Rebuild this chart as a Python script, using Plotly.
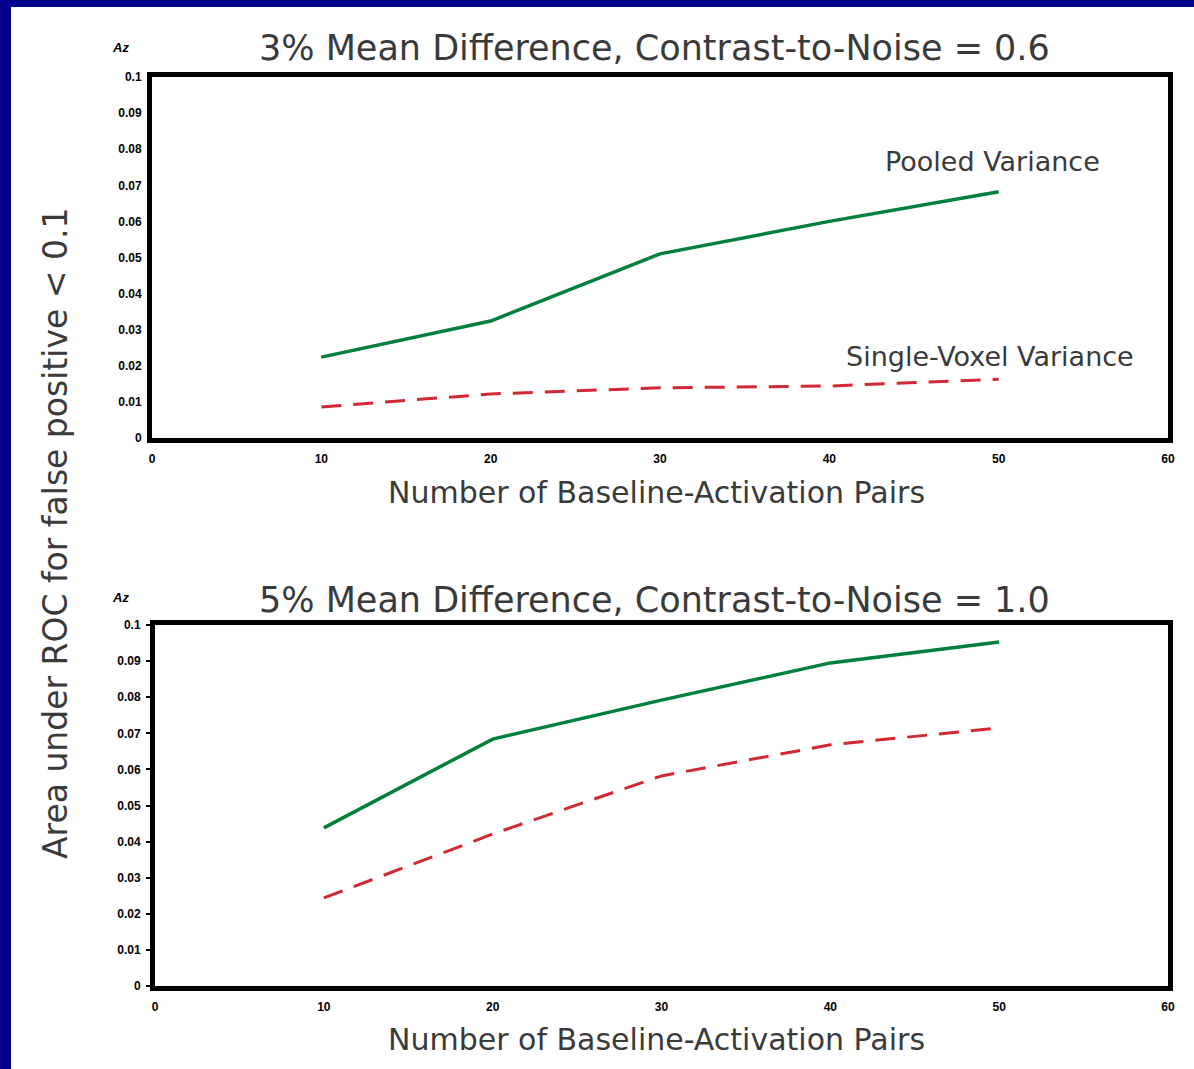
import plotly.graph_objects as go

# Number of baseline-activation pairs
pairs = [10, 20, 30, 40, 50]

# Az (area under ROC for false positive < 0.1), 3% mean difference, CNR = 0.6
pooled_cnr06 = [0.0224, 0.0324, 0.0510, 0.0600, 0.0682]
single_cnr06 = [0.0086, 0.0122, 0.0139, 0.0144, 0.0163]

# Az, 5% mean difference, CNR = 1.0
pooled_cnr10 = [0.0438, 0.0684, 0.0792, 0.0895, 0.0953]
single_cnr10 = [0.0244, 0.0421, 0.0582, 0.0668, 0.0715]

panel_titles = [
    "3% Mean Difference, Contrast-to-Noise = 0.6",
    "5% Mean Difference, Contrast-to-Noise = 1.0",
]
x_title = "Number of Baseline-Activation Pairs"
y_title = "Area under ROC for false positive < 0.1"
x_ticks = [0, 10, 20, 30, 40, 50, 60]
y_ticks = [0, 0.01, 0.02, 0.03, 0.04, 0.05, 0.06, 0.07, 0.08, 0.09, 0.1]
y_ticklabels = ["0", "0.01", "0.02", "0.03", "0.04", "0.05", "0.06", "0.07", "0.08", "0.09", "0.1"]

W, H = 1194, 1069
GREEN = "rgb(0,128,60)"
RED = "rgb(210,40,50)"
TEXT = "#3a3a3a"
FONT = "DejaVu Sans"

fig = go.Figure()

for i, (pooled, single) in enumerate([(pooled_cnr06, single_cnr06), (pooled_cnr10, single_cnr10)]):
    xa = "x" if i == 0 else "x2"
    ya = "y" if i == 0 else "y2"
    fig.add_trace(go.Scatter(x=pairs, y=pooled, mode="lines", xaxis=xa, yaxis=ya,
                             line=dict(color=GREEN, width=3.5), showlegend=False))
    fig.add_trace(go.Scatter(x=pairs, y=single, mode="lines", xaxis=xa, yaxis=ya,
                             line=dict(color=RED, width=3, dash="20px,12px"), showlegend=False))


def px_x(p):
    return p / W


def px_y(p):
    return 1 - p / H


axis_common = dict(
    showline=True, mirror=True, linecolor="black", linewidth=5,
    showgrid=False, zeroline=False, automargin=False,
    tickfont=dict(family="Liberation Sans", size=12, color="black"),
)

xaxis_cfg = dict(axis_common, range=[0, 60], tickvals=x_ticks,
                 ticktext=[f"<b>{t}</b>" for t in x_ticks],
                 ticks="", ticklen=0, ticklabelstandoff=6)
yaxis_cfg = dict(axis_common, range=[0, 0.1], tickvals=y_ticks,
                 ticktext=[f"<b>{t}</b>" for t in y_ticklabels],
                 ticklabelstandoff=3)

fig.update_layout(
    width=W, height=H,
    margin=dict(l=0, r=0, t=0, b=0, pad=0),
    paper_bgcolor="rgb(0,0,140)",
    plot_bgcolor="white",
    xaxis=dict(xaxis_cfg, domain=[px_x(152), px_x(1168)], anchor="y"),
    yaxis=dict(yaxis_cfg, domain=[px_y(438), px_y(77)], anchor="x",
               ticks="", ticklen=0),
    xaxis2=dict(xaxis_cfg, domain=[px_x(155), px_x(1168)], anchor="y2"),
    yaxis2=dict(yaxis_cfg, domain=[px_y(986), px_y(625)], anchor="x2",
                ticks="outside", ticklen=4, tickwidth=2, tickcolor="black"),
)

# white slide area inside the blue frame (blue only on the top and left edges)
fig.add_shape(type="rect", xref="paper", yref="paper", layer="below",
              x0=px_x(11), x1=1.05, y0=-0.05, y1=px_y(7),
              fillcolor="white", line=dict(width=0))

annotations = []
# panel titles
for title, ycen in zip(panel_titles, [48, 600]):
    annotations.append(dict(text=title, xref="paper", yref="paper",
                            x=px_x(655), y=px_y(ycen), showarrow=False,
                            xanchor="center", yanchor="middle",
                            font=dict(family=FONT, size=35, color=TEXT)))
# x-axis titles
for ycen in [492, 1039]:
    annotations.append(dict(text=x_title, xref="paper", yref="paper",
                            x=px_x(656), y=px_y(ycen), showarrow=False,
                            xanchor="center", yanchor="middle",
                            font=dict(family=FONT, size=30, color=TEXT)))
# "Az" unit labels above the y axes
for ycen in [47, 597]:
    annotations.append(dict(text="<b><i>Az</i></b>", xref="paper", yref="paper",
                            x=px_x(120), y=px_y(ycen), showarrow=False,
                            xanchor="center", yanchor="middle",
                            font=dict(family="Liberation Sans", size=13, color="black")))
# shared y-axis title
annotations.append(dict(text=y_title, xref="paper", yref="paper",
                        x=px_x(55), y=px_y(534), showarrow=False, textangle=-90,
                        xanchor="center", yanchor="middle",
                        font=dict(family=FONT, size=33, color=TEXT)))
# series labels
annotations.append(dict(text="Pooled Variance", xref="paper", yref="paper",
                        x=px_x(992), y=px_y(161), showarrow=False,
                        xanchor="center", yanchor="middle",
                        font=dict(family=FONT, size=27, color=TEXT)))
annotations.append(dict(text="Single-Voxel Variance", xref="paper", yref="paper",
                        x=px_x(990), y=px_y(357), showarrow=False,
                        xanchor="center", yanchor="middle",
                        font=dict(family=FONT, size=27, color=TEXT)))

fig.update_layout(annotations=annotations)

fig.write_html("out.html")
